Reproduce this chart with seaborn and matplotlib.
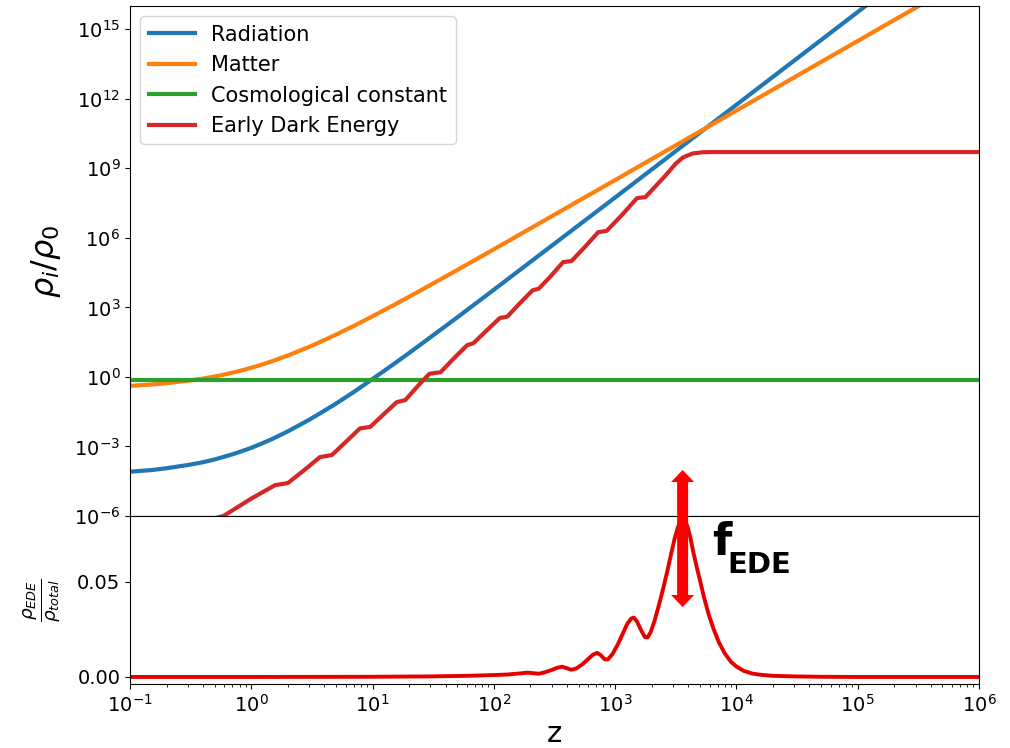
import numpy as np
import pandas as pd
import matplotlib
matplotlib.use("Agg")
import matplotlib.pyplot as plt
import seaborn as sns
from matplotlib.patches import Polygon
from matplotlib.transforms import IdentityTransform
from matplotlib.ticker import NullLocator, FormatStrFormatter, FixedLocator

# ---------------- data ----------------
z_grid = [0.1, 0.15, 0.2, 0.3, 0.4, 0.5, 0.6, 0.7, 0.85, 1, 1.2, 1.5, 2, 3,
          4, 5, 7, 10, 15, 20, 30, 50, 100, 1e3, 1e4, 1e5, 1e6]
# log10(rho_i / rho_0)
log_rho_radiation = [-4.09, -4.02, -3.94, -3.80, -3.68, -3.56, -3.44, -3.34,
                     -3.19, -3.06, -2.89, -2.67, -2.35, -1.85, -1.46, -1.15,
                     -0.65, -0.09, 0.56, 1.03, 1.71, 2.57, 3.76, 7.74, 11.74,
                     15.74, 19.74]
log_rho_matter = [-0.385, -0.327, -0.271, -0.167, -0.071, 0.019, 0.103, 0.182,
                  0.293, 0.394, 0.518, 0.685, 0.922, 1.297, 1.588, 1.826,
                  2.200, 2.615, 3.103, 3.458, 3.965, 4.614, 5.504, 8.492,
                  11.491, 14.491, 17.491]
z_lambda = [0.1, 1e6]
log_rho_lambda = [-0.14, -0.14]

# Early dark energy (oscillating staircase, then frozen plateau)
z_ede = [0.3, 0.589, 1.0, 1.57, 2.0, 2.69, 3.68, 4.62, 6.03, 7.87, 9.55,
         12.3, 15.8, 18.6, 24.5, 29.5, 36.3, 46.8, 60.3, 67.6, 87.1, 112,
         129, 162, 209, 234, 295, 372, 437, 562, 724, 851, 1122, 1514, 1778,
         2512, 3162, 3631, 4365, 5248, 6310, 1e6]
log_rho_ede = [-6.4, -6.0, -5.25, -4.67, -4.58, -4.05, -3.46, -3.37, -2.8,
               -2.22, -2.16, -1.62, -1.09, -1.0, -0.3, 0.14, 0.2, 0.8, 1.37,
               1.45, 2.0, 2.54, 2.6, 3.15, 3.74, 3.8, 4.35, 4.95, 5.0, 5.6,
               6.24, 6.3, 6.95, 7.71, 7.76, 8.6, 9.2, 9.47, 9.64, 9.69, 9.70,
               9.70]

# EDE fraction rho_EDE / rho_total
z_frac = [0.1, 1, 10, 30, 60, 100, 130, 160, 190, 210, 235, 265, 300, 335,
          365, 395, 435, 480, 540, 600, 660, 710, 760, 820, 870, 950, 1050,
          1150, 1260, 1360, 1430, 1520, 1640, 1760, 1850, 1960, 2100, 2300,
          2500, 2700, 2900, 3100, 3300, 3500, 3630, 3760, 3950, 4150, 4400,
          4700, 5000, 5400, 5900, 6500, 7200, 8000, 9000, 10000, 11500,
          13500, 16000, 20000, 30000, 50000, 1e5, 1e6]
f_ede = [0.0, 0.0, 0.0001, 0.0003, 0.0006, 0.0010, 0.0013, 0.0018, 0.0023,
         0.0020, 0.0017, 0.0025, 0.0037, 0.0049, 0.0054, 0.0047, 0.0038,
         0.0045, 0.0068, 0.0095, 0.0118, 0.0127, 0.0115, 0.0093, 0.0092,
         0.0120, 0.0170, 0.0225, 0.0280, 0.0308, 0.0312, 0.0290, 0.0245,
         0.0210, 0.0208, 0.0235, 0.0290, 0.0380, 0.0470, 0.0560, 0.0650,
         0.0730, 0.0790, 0.0825, 0.0832, 0.0825, 0.0790, 0.0740, 0.0660,
         0.0580, 0.0510, 0.0420, 0.0330, 0.0250, 0.0180, 0.0125, 0.0080,
         0.0055, 0.0032, 0.0018, 0.0011, 0.0006, 0.0003, 0.0001, 0.0, 0.0]

labels = ["Radiation", "Matter", "Cosmological constant", "Early Dark Energy"]
colors = ["#1f77b4", "#ff7f0e", "#2ca02c", "#d62728"]
x_ticks = [1e-1, 1e0, 1e1, 1e2, 1e3, 1e4, 1e5, 1e6]
y_ticks_top = [1e-6, 1e-3, 1e0, 1e3, 1e6, 1e9, 1e12, 1e15]
y_ticks_bottom = [0.0, 0.05]

# ---------------- figure ----------------
plt.rcParams['font.family'] = ['DejaVu Sans']
plt.rcParams['mathtext.fontset'] = 'dejavusans'

W, H = 1010, 748
fig = plt.figure(figsize=(W / 100, H / 100), dpi=100)
left, right = 130 / W, 979 / W
ax1 = fig.add_axes([left, 1 - 516 / H, right - left, (516 - 6) / H])
ax2 = fig.add_axes([left, 1 - 684 / H, right - left, (684 - 516) / H])

for a in (ax1, ax2):
    a.set_xscale("log")
ax1.set_yscale("log")

series = [
    (z_grid, log_rho_radiation),
    (z_grid, log_rho_matter),
    (z_lambda, log_rho_lambda),
    (z_ede, log_rho_ede),
]
for (zz, lv), lab, col in zip(series, labels, colors):
    df = pd.DataFrame({"z": zz, "rho": 10.0 ** np.array(lv)})
    sns.lineplot(data=df, x="z", y="rho", ax=ax1, color=col, lw=3,
                 label=lab, sort=False, estimator=None)

df_f = pd.DataFrame({"z": z_frac, "f": f_ede})
sns.lineplot(data=df_f, x="z", y="f", ax=ax2, color="#e80000", lw=2.8,
             sort=False, estimator=None, legend=False)

# limits / ticks
ax1.set_xlim(0.1, 1e6)
ax2.set_xlim(0.1, 1e6)
ax1.set_ylim(1e-6, 1e16)
ax2.set_ylim(-0.0037, 0.0847)

ax1.yaxis.set_major_locator(FixedLocator(y_ticks_top))
ax1.yaxis.set_minor_locator(NullLocator())
ax1.xaxis.set_major_locator(FixedLocator(x_ticks))
ax1.tick_params(axis="x", which="both", bottom=False, labelbottom=False)
ax1.set_xlabel("")
ax2.xaxis.set_major_locator(FixedLocator(x_ticks))
ax2.set_yticks(y_ticks_bottom)
ax2.yaxis.set_major_formatter(FormatStrFormatter("%.2f"))

for a in (ax1, ax2):
    a.tick_params(axis="both", which="major", labelsize=14)

ax1.set_ylabel(r"$\rho_i/\rho_0$", fontsize=23)
ax2.set_ylabel(r"$\frac{\rho_{EDE}}{\rho_{total}}$", fontsize=19)
ax1.yaxis.set_label_coords(-0.079, 0.5)
ax2.yaxis.set_label_coords(-0.079, 0.5)
ax2.set_xlabel("z", fontsize=21, labelpad=3)

leg = ax1.legend(loc="upper left", fontsize=15, handlelength=2.2,
                 borderaxespad=0.5)

# ---------------- f_EDE double arrow + label ----------------
z_arrow = 3600
f_top, f_bot = 0.1089, 0.0368
xc, yt = ax2.transData.transform((z_arrow, f_top))
_, yb = ax2.transData.transform((z_arrow, f_bot))
sw, hw, hl = 5.5, 11.5, 12.0   # shaft half-width, head half-width, head length (px)
verts = [(xc, yt), (xc + hw, yt - hl), (xc + sw, yt - hl), (xc + sw, yb + hl),
         (xc + hw, yb + hl), (xc, yb), (xc - hw, yb + hl), (xc - sw, yb + hl),
         (xc - sw, yt - hl), (xc - hw, yt - hl)]
arrow = Polygon(verts, closed=True, facecolor="#ff0000", edgecolor="none",
                transform=IdentityTransform(), zorder=10)
fig.add_artist(arrow)

ax2.text(6300, 0.0642, "f", fontsize=32, fontweight="bold", color="black",
         ha="left", va="baseline", clip_on=False, zorder=11)
ax2.text(8400, 0.0547, "EDE", fontsize=21, fontweight="bold", color="black",
         ha="left", va="baseline", clip_on=False, zorder=11)

fig.savefig("out.png", dpi=100)
